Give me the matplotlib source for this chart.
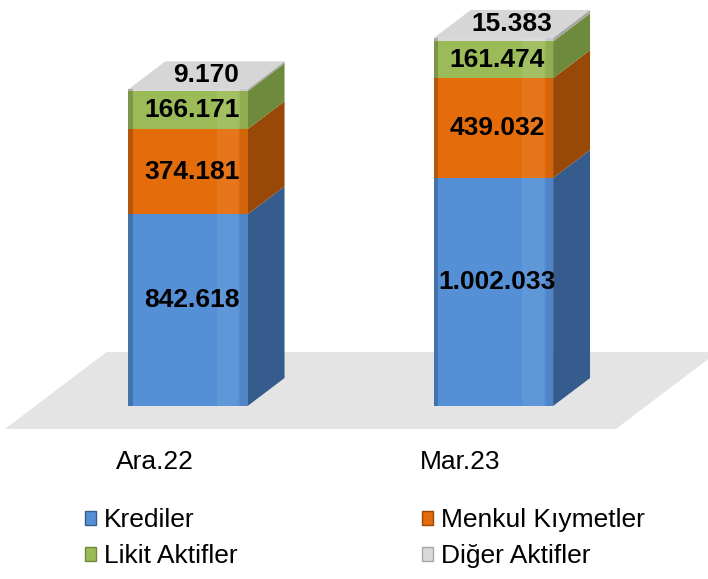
import numpy as np
import matplotlib.pyplot as plt
from matplotlib.patches import Polygon, Patch

plt.rcParams['font.family'] = ['Liberation Sans', 'DejaVu Sans']

# values in million TL
categories = ['Ara.22', 'Mar.23']
series = ['Krediler', 'Menkul Kıymetler', 'Likit Aktifler', 'Diğer Aktifler']
krediler = [842618, 1002033]
menkul = [374181, 439032]
likit = [166171, 161474]
diger = [9170, 15383]

front_colors = ['#5590D6', '#E46C0A', '#9BBB59', '#D9D9D9']
side_colors = ['#355C8C', '#984807', '#6E8B3D', '#A6A6A6']
top_color = '#D6D6D6'

DX = 0.121      # oblique depth offset (x units)
DY = 123000     # oblique depth offset (value units)
WIDTH = 0.39


def fmt(v):
    return f"{v:,}".replace(',', '.')


fig = plt.figure(figsize=(7.08, 5.79), dpi=100)
ax = fig.add_axes([0, 0, 1, 1])
ax.set_xlim(-0.6154, 1.7021)
ax.set_ylim(-760400, 1784600)
ax.axis('off')

# floor
f, b = -0.82, 1.93
floor = [(-0.5 + f * DX, f * DY), (1.5 + f * DX, f * DY),
         (1.5 + b * DX, b * DY), (-0.5 + b * DX, b * DY)]
ax.add_patch(Polygon(floor, closed=True, facecolor='#E4E4E4', edgecolor='none', zorder=0))

data = np.array([krediler, menkul, likit, diger])
x = np.arange(len(categories))
bottoms = np.vstack([np.zeros(len(x)), np.cumsum(data, axis=0)[:-1]])
tops = bottoms + data

for i in range(len(x)):
    x0 = x[i] - WIDTH / 2
    x1 = x[i] + WIDTH / 2
    for s in range(len(series)):
        y0, y1 = bottoms[s, i], tops[s, i]
        side = [(x1, y0), (x1 + DX, y0 + DY), (x1 + DX, y1 + DY), (x1, y1)]
        ax.add_patch(Polygon(side, closed=True, facecolor=side_colors[s],
                             edgecolor='none', zorder=2))
    ytop = tops[-1, i]
    top = [(x0, ytop), (x1, ytop), (x1 + DX, ytop + DY), (x0 + DX, ytop + DY)]
    ax.add_patch(Polygon(top, closed=True, facecolor=top_color, edgecolor='none', zorder=2))

for s in range(len(series)):
    ax.bar(x, data[s], bottom=bottoms[s], width=WIDTH, color=front_colors[s],
           edgecolor='none', zorder=3)
    # bevel-like shading
    ax.bar(x - WIDTH / 2, data[s], bottom=bottoms[s], width=WIDTH * 0.035, align='edge',
           color='black', alpha=0.2, edgecolor='none', zorder=4)
    ax.bar(x - WIDTH / 2 + WIDTH * 0.74, data[s], bottom=bottoms[s], width=WIDTH * 0.18,
           align='edge', color='white', alpha=0.07, edgecolor='none', zorder=4)
    ax.bar(x + WIDTH / 2 - WIDTH * 0.06, data[s], bottom=bottoms[s], width=WIDTH * 0.06,
           align='edge', color='black', alpha=0.07, edgecolor='none', zorder=4)

# value labels
for i in range(len(x)):
    for s in range(3):
        ymid = (bottoms[s, i] + tops[s, i]) / 2
        if s == 0:
            ymid += DY * 0.35
        ax.text(x[i] + 0.012, ymid, fmt(data[s, i]),
                ha='center', va='center', fontsize=19, fontweight='bold', zorder=5)
    ax.text(x[i] + DX / 2, tops[-1, i] + DY / 2, fmt(data[3, i]),
            ha='center', va='center', fontsize=19, fontweight='bold', zorder=5)
    ax.text(x[i] + f * DX - 0.01, -246000, categories[i], ha='center', va='center',
            fontsize=19, zorder=5)

order = [0, 2, 1, 3]
handles = [Patch(facecolor=front_colors[s], edgecolor=side_colors[s]) for s in order]
fig.legend(handles, [series[s] for s in order], ncol=2, loc='upper left',
           bbox_to_anchor=(0.12, 0.122), frameon=False, fontsize=19,
           handlelength=0.42, handleheight=0.42, handletextpad=0.3,
           columnspacing=7.0, labelspacing=0.45, borderpad=0, borderaxespad=0)

fig.savefig('out.png', dpi=100)
